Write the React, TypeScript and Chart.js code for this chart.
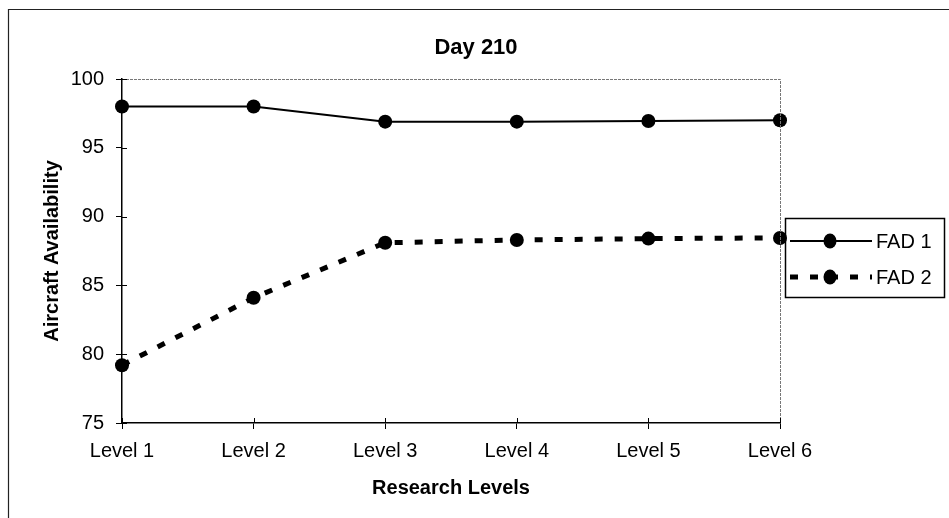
import React, { useEffect, useRef } from "react";
import { Chart, registerables } from "chart.js";

Chart.register(...registerables);

const categories = ["Level 1", "Level 2", "Level 3", "Level 4", "Level 5", "Level 6"];
const fad1 = [98, 98, 96.9, 96.9, 96.95, 97];
const fad2 = [79.2, 84.1, 88.1, 88.3, 88.4, 88.45];
const seriesNames = ["FAD 1", "FAD 2"];
const yMin = 75;
const yMax = 100;
const yStep = 5;
const titleText = "Day 210";
const xTitle = "Research Levels";
const yTitle = "Aircraft Availability";

const FONT = "'Liberation Sans', Arial, sans-serif";
const DASH = [8, 12];

const decorPlugin = {
  id: "decor",
  afterDraw(chart: any) {
    const ctx = chart.ctx;
    const a = chart.chartArea;
    ctx.save();
    // outer frame (top and left edges visible)
    ctx.strokeStyle = "#222";
    ctx.lineWidth = 1.2;
    ctx.beginPath();
    ctx.moveTo(8.5, 518);
    ctx.lineTo(8.5, 9.5);
    ctx.lineTo(949, 9.5);
    ctx.stroke();

    // plot border top & right (thin gray)
    ctx.strokeStyle = "#777";
    ctx.lineWidth = 1;
    ctx.setLineDash([3, 1]);
    ctx.beginPath();
    ctx.moveTo(a.left, Math.round(a.top) + 0.5);
    ctx.lineTo(Math.round(a.right) + 0.5, Math.round(a.top) + 0.5);
    ctx.lineTo(Math.round(a.right) + 0.5, a.bottom);
    ctx.stroke();
    ctx.setLineDash([]);

    // inward halves of the crossing tick marks
    ctx.strokeStyle = "#000";
    ctx.lineWidth = 1;
    const ys = chart.scales.y;
    ys.ticks.forEach((t: any) => {
      const py = Math.round(ys.getPixelForValue(t.value)) + 0.5;
      ctx.beginPath();
      ctx.moveTo(a.left, py);
      ctx.lineTo(a.left + 5, py);
      ctx.stroke();
    });
    const xs = chart.scales.x;
    xs.ticks.forEach((_t: any, i: number) => {
      const px = Math.round(xs.getPixelForTick(i)) + 0.5;
      ctx.beginPath();
      ctx.moveTo(px, a.bottom);
      ctx.lineTo(px, a.bottom - 5);
      ctx.stroke();
    });

    // title
    ctx.fillStyle = "#000";
    ctx.font = `bold 22px ${FONT}`;
    ctx.textAlign = "center";
    ctx.textBaseline = "middle";
    ctx.fillText(titleText, 476, 48);

    // legend
    const lx = 785, ly = 218, lw = 159, lh = 79;
    ctx.strokeStyle = "#000";
    ctx.lineWidth = 1.5;
    ctx.strokeRect(lx + 0.5, ly + 0.5, lw, lh);
    const rows = [241, 277];
    chart.data.datasets.forEach((ds: any, i: number) => {
      const y = rows[i];
      ctx.strokeStyle = "#000";
      ctx.lineWidth = ds.borderWidth;
      ctx.setLineDash(ds.borderDash || []);
      ctx.beginPath();
      ctx.moveTo(790, y);
      ctx.lineTo(872, y);
      ctx.stroke();
      ctx.setLineDash([]);
      ctx.fillStyle = "#000";
      ctx.beginPath();
      ctx.ellipse(830, y, 6.5, 7.5, 0, 0, Math.PI * 2);
      ctx.fill();
      ctx.font = `20px ${FONT}`;
      ctx.textAlign = "left";
      ctx.textBaseline = "middle";
      ctx.fillText(seriesNames[i], 876, y + 1);
    });
    ctx.restore();
  },
};

export default function App() {
  const ref = useRef<HTMLCanvasElement>(null);
  useEffect(() => {
    if (!ref.current) return;
    const chart = new Chart(ref.current, {
      type: "line",
      data: {
        labels: categories,
        datasets: [
          {
            label: seriesNames[0],
            data: fad1,
            borderColor: "#000",
            backgroundColor: "#000",
            borderWidth: 2,
            pointRadius: 7,
            pointHoverRadius: 7,
            pointBackgroundColor: "#000",
            pointBorderWidth: 0,
            tension: 0,
          },
          {
            label: seriesNames[1],
            data: fad2,
            borderColor: "#000",
            backgroundColor: "#000",
            borderWidth: 5,
            borderDash: DASH,
            pointRadius: 7,
            pointHoverRadius: 7,
            pointBackgroundColor: "#000",
            pointBorderWidth: 0,
            tension: 0,
          },
        ],
      },
      options: {
        animation: false,
        responsive: false,
        events: [],
        layout: { padding: { left: 8, top: 79, right: 169, bottom: 0 } },
        plugins: {
          legend: { display: false },
          title: { display: false },
          tooltip: { enabled: false },
        },
        scales: {
          x: {
            type: "category",
            offset: false,
            grid: { display: true, drawOnChartArea: false, drawTicks: true, tickLength: 6, color: "#000", offset: false },
            border: { display: true, color: "#000", width: 1.5 },
            ticks: { color: "#000", font: { family: FONT, size: 20 }, padding: 10, maxRotation: 0, autoSkip: false },
            title: { display: true, text: xTitle, color: "#000", font: { family: FONT, size: 20, weight: "bold" }, padding: { top: 0, bottom: 18 } },
            afterFit(scale: any) { scale.height = 95; },
          },
          y: {
            min: yMin,
            max: yMax,
            grid: { display: true, drawOnChartArea: false, drawTicks: true, tickLength: 6, color: "#000" },
            border: { display: true, color: "#000", width: 1.5 },
            ticks: { stepSize: yStep, color: "#000", font: { family: FONT, size: 20 }, padding: 12 },
            title: { display: true, text: yTitle, color: "#000", font: { family: FONT, size: 20, weight: "bold" }, padding: { top: 32, bottom: 0 } },
            afterFit(scale: any) { scale.width = 114; },
          },
        },
      },
      plugins: [decorPlugin],
    });
    return () => chart.destroy();
  }, []);
  return (
    <div style={{ position: "absolute", left: 0, top: 0, width: 949, height: 518, background: "#fff" }}>
      <canvas ref={ref} width={949} height={518} style={{ display: "block" }} />
    </div>
  );
}
